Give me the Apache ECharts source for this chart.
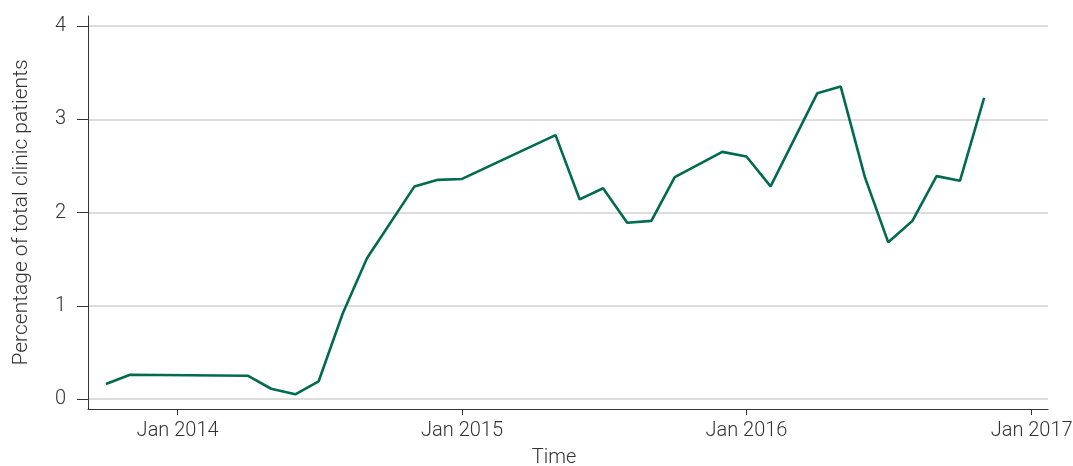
<!DOCTYPE html>
<html>
<head>
<meta charset="utf-8">
<script src="https://cdn.jsdelivr.net/npm/echarts@6/dist/echarts.min.js"></script>
<style>
html,body{margin:0;padding:0;background:#fff;}
#main{width:1073px;height:466px;}
</style>
</head>
<body>
<div id="main"></div>
<script>
// ---- data ----
const dates = [
  '2013-10-01','2013-11-01','2014-04-01','2014-05-01','2014-06-01','2014-07-01',
  '2014-08-01','2014-09-01','2014-11-01','2014-12-01','2015-01-01','2015-05-01',
  '2015-06-01','2015-07-01','2015-08-01','2015-09-01','2015-10-01','2015-12-01',
  '2016-01-01','2016-02-01','2016-04-01','2016-05-01','2016-06-01','2016-07-01',
  '2016-08-01','2016-09-01','2016-10-01','2016-11-01'
];
const percentages = [
  0.16, 0.26, 0.25, 0.11, 0.05, 0.19,
  0.92, 1.51, 2.28, 2.35, 2.36, 2.83,
  2.14, 2.26, 1.89, 1.91, 2.38, 2.65,
  2.60, 2.28, 3.28, 3.35, 2.38, 1.68,
  1.91, 2.39, 2.34, 3.23
];
const xTickDates = ['2014-01-01','2015-01-01','2016-01-01','2017-01-01'];
const xTickLabels = ['Jan 2014','Jan 2015','Jan 2016','Jan 2017'];
const yTicks = [0, 1, 2, 3, 4];
const xMin = '2013-09-08';
const xMax = '2017-01-22';

const toTs = s => { const p = s.split('-').map(Number); return Date.UTC(p[0], p[1]-1, p[2]); };
const tickTs = xTickDates.map(toTs);
const seriesData = dates.map((d, i) => [toTs(d), percentages[i]]);

const FONT = 'Roboto, "Open Sans", sans-serif';
const TXT = '#333';
const FW = 300;
const FS = 20;

const chart = echarts.init(document.getElementById('main'), null, {renderer: 'canvas'});
chart.setOption({
  animation: false,
  backgroundColor: '#fff',
  grid: [
    {left: 88, right: 25, top: 16, bottom: 57, containLabel: false, outerBoundsMode: 'none'},
    {left: 88, right: 25, top: 26, bottom: 67, containLabel: false, outerBoundsMode: 'none'}
  ],
  xAxis: [
    {
      gridIndex: 0, type: 'value', min: toTs(xMin), max: toTs(xMax),
      axisLine: {show: true, onZero: false, lineStyle: {color: '#333', width: 1}},
      axisTick: {show: true, length: 6, lineStyle: {color: '#333'}, customValues: tickTs},
      axisLabel: {
        show: true, customValues: tickTs, margin: 12,
        fontFamily: FONT, fontSize: FS, fontWeight: FW, color: TXT,
        formatter: v => { const i = tickTs.indexOf(v); return i >= 0 ? xTickLabels[i] : ''; }
      },
      splitLine: {show: false},
      name: 'Time', nameLocation: 'middle', nameGap: 39,
      nameTextStyle: {fontFamily: FONT, fontSize: FS, fontWeight: FW, color: TXT, padding: [0, 28, 0, 0]}
    },
    {
      gridIndex: 1, type: 'value', min: toTs(xMin), max: toTs(xMax), show: false
    }
  ],
  yAxis: [
    {
      gridIndex: 0, type: 'value', min: -0.107, max: 4.107,
      axisLine: {show: true, onZero: false, lineStyle: {color: '#333', width: 1}},
      axisTick: {show: false}, axisLabel: {show: false}, splitLine: {show: false}
    },
    {
      gridIndex: 1, type: 'value', min: yTicks[0], max: yTicks[yTicks.length-1], interval: 1,
      axisLine: {show: false},
      axisTick: {show: true, length: 11, lineStyle: {color: '#333'}},
      axisLabel: {fontFamily: FONT, fontSize: FS, fontWeight: FW, color: TXT, margin: 22},
      splitLine: {show: true, lineStyle: {color: '#dddddd', width: 2}},
      name: 'Percentage of total clinic patients', nameLocation: 'middle', nameGap: 56,
      nameTextStyle: {fontFamily: FONT, fontSize: 21, fontWeight: FW, color: TXT}
    }
  ],
  series: [{
    type: 'line', xAxisIndex: 1, yAxisIndex: 1,
    data: seriesData, showSymbol: false, symbol: 'none',
    lineStyle: {color: '#006b4f', width: 2.6},
    itemStyle: {color: '#006b4f'}
  }]
});
</script>
</body>
</html>
